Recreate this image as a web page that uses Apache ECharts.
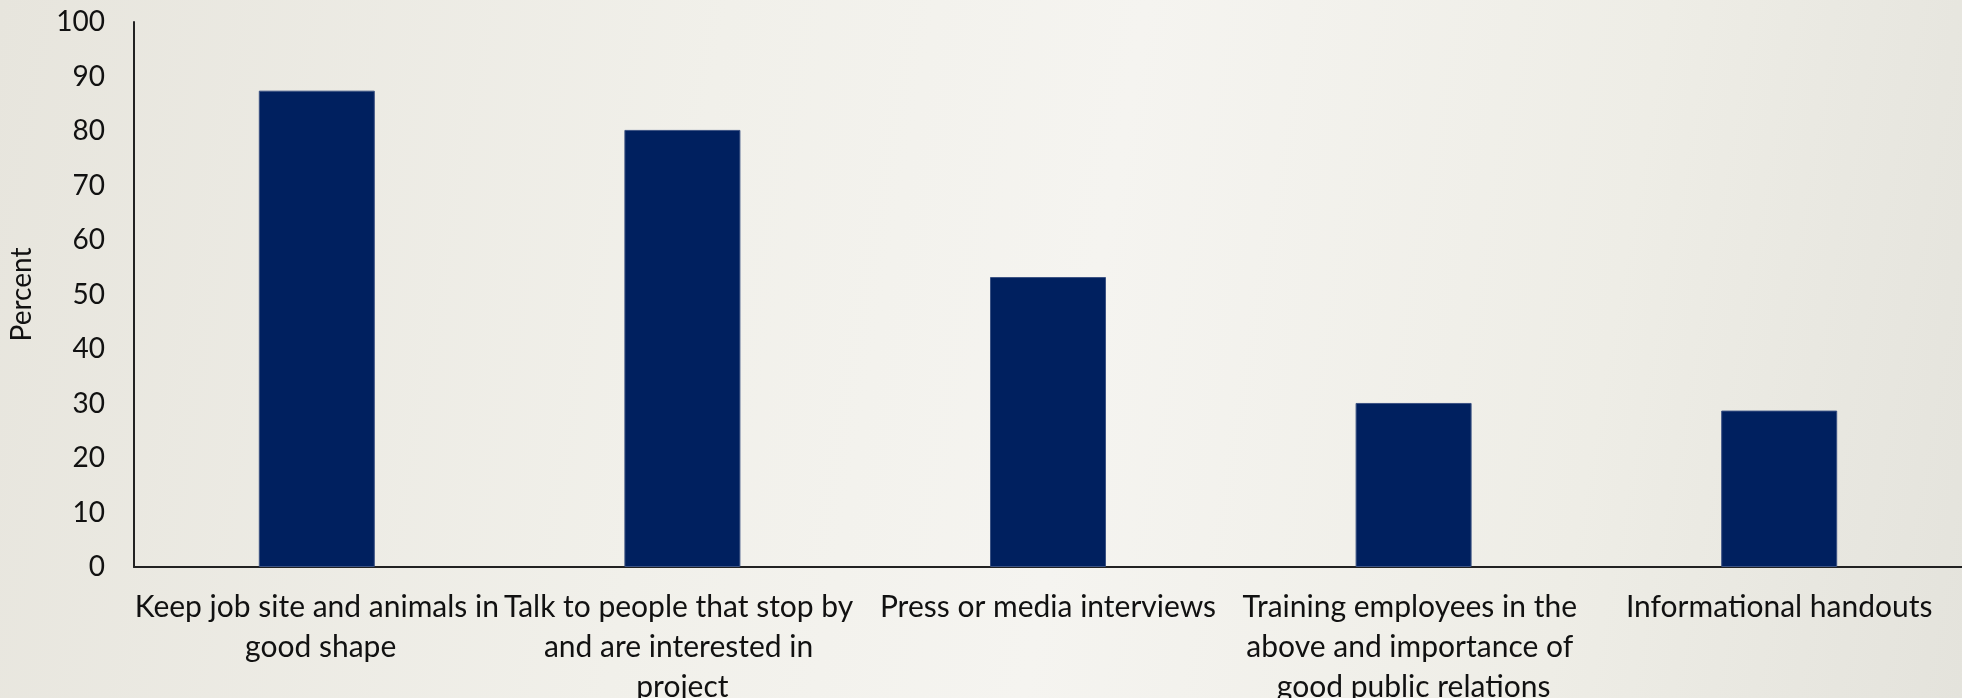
<!DOCTYPE html>
<html>
<head>
<meta charset="utf-8">
<script src="https://cdn.jsdelivr.net/npm/echarts@6/dist/echarts.min.js"></script>
<style>
html,body{margin:0;padding:0;}
#c{width:1962px;height:698px;background:linear-gradient(100deg,#e7e5dd 0%,#f1f0ea 35%,#f5f4f0 55%,#eeede6 80%,#e4e3dc 100%);}
</style>
</head>
<body>
<div id="c"></div>
<script>
const categories = [
  "Keep job site and animals in good shape",
  "Talk to people that stop by and are interested in project",
  "Press or media interviews",
  "Training employees in the above and importance of good public relations",
  "Informational handouts"
];
const percentValues = [87.4, 80.2, 53.2, 30.1, 28.7];
const yAxisName = "Percent";

const chart = echarts.init(document.getElementById('c'), null, {renderer: 'canvas'});
chart.setOption({
  backgroundColor: 'transparent',
  textStyle: {fontFamily: 'Lato'},
  grid: {left: 134, right: 0, top: 22, bottom: 131, containLabel: false, outerBoundsMode: 'none'},
  xAxis: {
    type: 'category',
    data: categories,
    axisLine: {show: true, lineStyle: {color: '#222', width: 2}},
    axisTick: {show: false},
    axisLabel: {
      interval: 0,
      color: '#111',
      fontFamily: 'Lato',
      fontSize: 30,
      lineHeight: 40,
      margin: 20,
      width: 367,
      overflow: 'break'
    }
  },
  yAxis: {
    type: 'value',
    min: 0, max: 100, interval: 10,
    name: yAxisName,
    nameLocation: 'middle',
    nameGap: 98,
    nameRotate: 90,
    nameTextStyle: {color: '#111', fontSize: 28, fontFamily: 'Lato'},
    axisLine: {show: true, lineStyle: {color: '#222', width: 2}},
    axisTick: {show: false},
    splitLine: {show: false},
    axisLabel: {color: '#111', fontSize: 28, fontFamily: 'Lato', margin: 29}
  },
  series: [{
    type: 'bar',
    data: percentValues,
    barWidth: 116,
    itemStyle: {color: '#00205f', borderColor: '#3b5283', borderWidth: 1},
    silent: true
  }],
  animation: false
});
</script>
</body>
</html>
